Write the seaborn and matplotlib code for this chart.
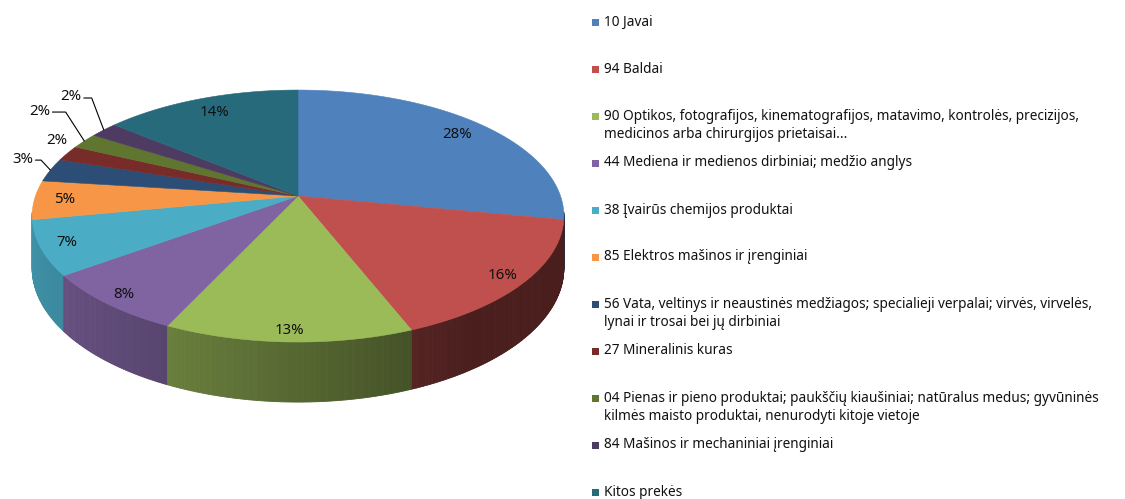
import numpy as np
import matplotlib
matplotlib.use("Agg")
import matplotlib.pyplot as plt
from matplotlib.patches import Polygon, Rectangle
from matplotlib.collections import PolyCollection
import seaborn as sns

# ---------------- data ----------------
categories = [
    "10 Javai",
    "94 Baldai",
    "90 Optikos, fotografijos, kinematografijos, matavimo, kontrolės, precizijos,\nmedicinos arba chirurgijos prietaisai...",
    "44 Mediena ir medienos dirbiniai; medžio anglys",
    "38 Įvairūs chemijos produktai",
    "85 Elektros mašinos ir įrenginiai",
    "56 Vata, veltinys ir neaustinės medžiagos; specialieji verpalai; virvės, virvelės,\nlynai ir trosai bei jų dirbiniai",
    "27 Mineralinis kuras",
    "04 Pienas ir pieno produktai; paukščių kiaušiniai; natūralus medus; gyvūninės\nkilmės maisto produktai, nenurodyti kitoje vietoje",
    "84 Mašinos ir mechaniniai įrenginiai",
    "Kitos prekės",
]
shares = [28, 16, 13, 8, 7, 5, 3, 2, 2, 2, 14]
colors = ["#4F81BD", "#C0504D", "#9BBB59", "#8064A2", "#4BACC6", "#F79646",
          "#2C4D75", "#772C2A", "#5F7530", "#4D3B62", "#276A7C"]

# ---------------- style / layout ----------------
sns.set_theme(style="white")
plt.rcParams["font.family"] = ["Noto Sans", "DejaVu Sans"]
FS_LEG = 9.8
FS_PCT = 10.8
palette = sns.color_palette(colors)

W, H = 1125, 499
fig = plt.figure(figsize=(W / 100, H / 100), dpi=100)
ax = fig.add_axes([0, 0, 1, 1])
ax.set_xlim(0, W)
ax.set_ylim(H, 0)
ax.axis("off")

# perspective pie geometry (pixel space)
CX, CY = 298, 196      # pie centre
A, B = 262.5, 122.8    # horizontal / vertical scale
P = 0.159              # perspective strength
DEPTH = 50.5           # thickness of the pie


def proj(phi_deg, r=1.0, drop=0.0):
    t = np.radians(phi_deg)
    u = r * np.cos(t)
    v = r * np.sin(t)
    s = 1 + P * v
    return CX + A * u / s, CY - B * v / s + drop / s


def shade(rgb, u):
    f = np.clip(0.55 - 0.3 * u, 0.38, 0.85)
    return tuple(np.array(rgb) * f)


total = float(sum(shares))
starts, ends = [], []
acc = 90.0
for val in shares:
    span = 360.0 * val / total
    starts.append(acc)
    ends.append(acc - span)
    acc -= span

# ---- side walls (only the front, visible part; back to front) ----
quads = []
for i in range(len(shares)):
    n = max(int(abs(starts[i] - ends[i]) / 0.5), 2)
    ph = np.linspace(starts[i], ends[i], n + 1)
    for a0, a1 in zip(ph[:-1], ph[1:]):
        mid = 0.5 * (a0 + a1)
        sv = np.sin(np.radians(mid))
        if sv > -0.13:
            continue
        x0, y0 = proj(a0)
        x1, y1 = proj(a1)
        x0b, y0b = proj(a0, drop=DEPTH)
        x1b, y1b = proj(a1, drop=DEPTH)
        quads.append((sv, [(x0, y0), (x1, y1), (x1b, y1b), (x0b, y0b)],
                      shade(palette[i], np.cos(np.radians(mid)))))
quads.sort(key=lambda q: -q[0])
pc = PolyCollection([q[1] for q in quads], facecolors=[q[2] for q in quads],
                    edgecolors=[q[2] for q in quads], linewidths=0.6, zorder=1)
ax.add_collection(pc)

# ---- top face ----
for i in range(len(shares)):
    n = max(int(abs(starts[i] - ends[i]) / 0.5), 2)
    ph = np.linspace(starts[i], ends[i], n + 1)
    xs, ys = proj(ph)
    pts = [(CX, CY)] + list(zip(xs, ys))
    ax.add_patch(Polygon(pts, closed=True, facecolor=palette[i],
                         edgecolor=palette[i], linewidth=0.4, zorder=2))

# ---- percentage labels ----
small_label_offsets = {6: (-17, -11), 7: (0, -13), 8: (-34, -30), 9: (-22, -33)}
for i, val in enumerate(shares):
    mid = 0.5 * (starts[i] + ends[i])
    txt = f"{val}%"
    if i in small_label_offsets:
        ex, ey = proj(mid)
        dx, dy = small_label_offsets[i]
        lx, ly = ex + dx, ey + dy
        ax.text(lx, ly, txt, ha="right", va="center", fontsize=FS_PCT,
                color="#111111", zorder=4)
        if abs(dx) > 8:
            elbow_x = ex - 0.55 * abs(dx)
            ax.plot([lx + 2, elbow_x, ex], [ly + 1, ly + 1, ey], color="black",
                    lw=0.8, zorder=4, solid_joinstyle="miter")
    else:
        r = 0.885 - 0.05 * np.sin(np.radians(mid))
        lx, ly = proj(mid, r=r)
        ax.text(lx, ly, txt, ha="center", va="center", fontsize=FS_PCT,
                color="#111111", zorder=4)

# ---- legend ----
LX, LY0, LSTEP, LINE = 592, 22, 47, 19
for i, lab in enumerate(categories):
    y = LY0 + LSTEP * i
    ax.add_patch(Rectangle((LX, y - 3.5), 7, 7, facecolor=palette[i],
                           edgecolor="none", zorder=3))
    for k, line in enumerate(lab.split("\n")):
        ax.text(LX + 12, y + LINE * k, line, ha="left", va="center",
                fontsize=FS_LEG, color="#111111")

fig.savefig("out.png", dpi=100, facecolor="white")
